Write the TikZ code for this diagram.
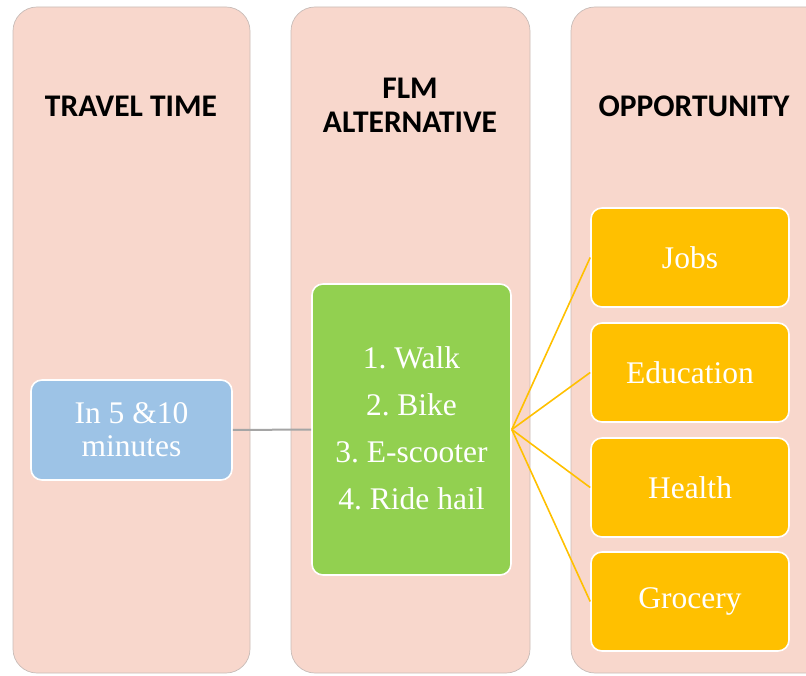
\documentclass[tikz,border=0pt]{standalone}
\usepackage{fontspec}
\setmainfont{Liberation Serif}
\newfontfamily\headfont{Carlito}
\frenchspacing
\definecolor{colbg}{HTML}{F8D7CC}
\definecolor{coledge}{HTML}{C8BCB8}
\definecolor{timeblue}{HTML}{9DC3E6}
\definecolor{modegreen}{HTML}{92D050}
\definecolor{oppgold}{HTML}{FFC000}
\definecolor{linkgray}{HTML}{A5A5A5}
\begin{document}
\begin{tikzpicture}[x=1pt,y=-1pt,
  column/.style={fill=colbg,draw=coledge,line width=0.7pt,rounded corners=24pt},
  header/.style={font=\headfont\bfseries\fontsize{31.5}{34}\selectfont,align=center,text=black},
  card/.style={draw=white,line width=1.6pt,rounded corners=11pt,text=white,
    font=\fontsize{31.5}{47}\selectfont,align=center,inner sep=0pt},
  timecard/.style={card,fill=timeblue,minimum width=201pt,minimum height=100pt},
  modecard/.style={card,fill=modegreen,minimum width=199pt,minimum height=291pt},
  oppcard/.style={card,fill=oppgold,minimum width=198pt,minimum height=99pt},
  timelink/.style={draw=linkgray,line width=2pt},
  opplink/.style={draw=oppgold,line width=1.6pt}]
\useasboundingbox (0,0) rectangle (806,676);
\clip (0,0) rectangle (806,676);

% three column panels
\draw[column] (13,7) rectangle (250,673);
\draw[column] (291,7) rectangle (530,673);
\draw[column] (571,7) rectangle (840,673);

% column headings
\node[header] (h1) at (131,106) {TRAVEL TIME};
\node[header] (h2) at (410,105) {FLM\\ALTERNATIVE};
\node[header] (h3) at (694,106) {OPPORTUNITY};

% cards
\node[timecard] (time) at (131.5,430) {In 5 \&10\\[-14pt]minutes};
\node[modecard] (mode) at (411.5,429.5) {};
\node[text=white,font=\fontsize{31.5}{47}\selectfont,align=center] (modes) at (411.5,428)
  {1. Walk\\2. Bike\\3. E-scooter\\4. Ride hail};
\node[oppcard] (jobs) at (690,257.5) {Jobs};
\node[oppcard] (edu) at (690,372.5) {Education};
\node[oppcard] (health) at (690,487.5) {Health};
\node[oppcard] (groc) at (690,601.5) {Grocery};

% connectors
\path[timelink] (time.east) -- (mode.west);
\foreach \t in {jobs,edu,health,groc}
  \path[opplink] (mode.east) -- (\t.west);
\end{tikzpicture}
\end{document}
